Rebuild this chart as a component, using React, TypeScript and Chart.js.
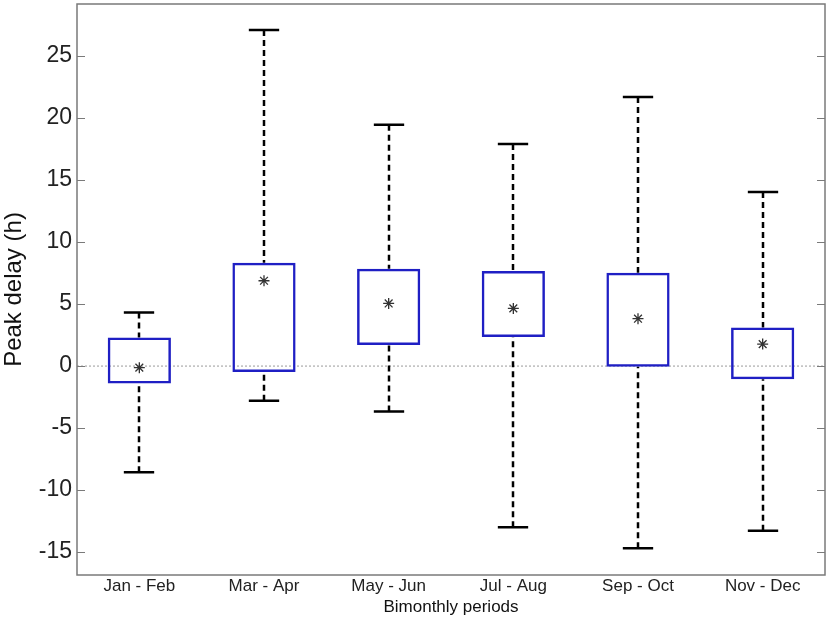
import React, { useEffect, useRef } from 'react';
import { Chart, registerables } from 'chart.js';

Chart.register(...registerables);

const categories = ['Jan - Feb', 'Mar - Apr', 'May - Jun', 'Jul - Aug', 'Sep - Oct', 'Nov - Dec'];
const boxLow = [-1.4, -0.48, 1.69, 2.34, -0.05, -1.07];
const boxHigh = [2.31, 8.33, 7.85, 7.66, 7.53, 3.12];
const means = [-0.13, 6.88, 5.05, 4.65, 3.82, 1.77];
const whiskerHigh = [4.33, 27.1, 19.46, 17.9, 21.7, 14.03];
const whiskerLow = [-8.57, -2.8, -3.66, -13.0, -14.7, -13.28];
const yMin = -16.85;
const yMax = 29.2;

export default function App() {
  const ref = useRef<HTMLCanvasElement>(null);

  useEffect(() => {
    document.body.style.margin = '0';
    const canvas = ref.current;
    if (!canvas) return;

    const boxExtras = {
      id: 'boxExtras',
      beforeDatasetsDraw(chart: any) {
        const { ctx, chartArea: a, scales } = chart;
        const x = scales.x;
        const y = scales.y;
        ctx.save();
        ctx.strokeStyle = '#9a9a9a';
        ctx.lineWidth = 1;
        ctx.setLineDash([2, 2]);
        const y0 = y.getPixelForValue(0);
        ctx.beginPath();
        ctx.moveTo(a.left, y0);
        ctx.lineTo(a.right, y0);
        ctx.stroke();
        ctx.restore();

        const meta = chart.getDatasetMeta(0);
        ctx.save();
        ctx.strokeStyle = '#000';
        ctx.lineWidth = 2.5;
        categories.forEach((_, i) => {
          const px = Math.round(x.getPixelForValue(i));
          const bw = meta.data[i].width;
          const half = bw * 0.24;
          const yHi = y.getPixelForValue(whiskerHigh[i]);
          const yQ3 = y.getPixelForValue(boxHigh[i]);
          const yQ1 = y.getPixelForValue(boxLow[i]);
          const yLo = y.getPixelForValue(whiskerLow[i]);
          ctx.setLineDash([6, 4]);
          ctx.beginPath();
          ctx.moveTo(px, yHi);
          ctx.lineTo(px, yQ3);
          ctx.moveTo(px, yLo);
          ctx.lineTo(px, yQ1);
          ctx.stroke();
          ctx.setLineDash([]);
          ctx.beginPath();
          ctx.moveTo(px - half, yHi);
          ctx.lineTo(px + half, yHi);
          ctx.moveTo(px - half, yLo);
          ctx.lineTo(px + half, yLo);
          ctx.stroke();
        });
        ctx.restore();
      },
      afterDraw(chart: any) {
        const { ctx, chartArea: a, scales } = chart;
        const y = scales.y;
        ctx.save();
        ctx.strokeStyle = '#7a7a7a';
        ctx.lineWidth = 1.5;
        ctx.strokeRect(a.left, a.top, a.right - a.left, a.bottom - a.top);
        ctx.lineWidth = 1.2;
        ctx.beginPath();
        y.ticks.forEach((t: any) => {
          const py = Math.round(y.getPixelForValue(t.value)) + 0.5;
          ctx.moveTo(a.left, py);
          ctx.lineTo(a.left + 8, py);
          ctx.moveTo(a.right - 8, py);
          ctx.lineTo(a.right, py);
        });
        ctx.stroke();
        ctx.restore();
      },
    };

    const chart = new Chart(canvas, {
      type: 'bar',
      data: {
        labels: categories,
        datasets: [
          {
            type: 'bar',
            data: categories.map((_, i) => [boxLow[i], boxHigh[i]]) as any,
            backgroundColor: 'rgba(255,255,255,0)',
            borderColor: '#1f1fc4',
            borderWidth: 2.5,
            borderSkipped: false,
            barPercentage: 0.507,
            categoryPercentage: 1,
            order: 2,
          },
          {
            type: 'line',
            data: means,
            showLine: false,
            pointStyle: 'star',
            pointRadius: 5.5,
            pointBorderColor: '#333',
            pointBackgroundColor: '#333',
            pointBorderWidth: 1.3,
            order: 1,
          } as any,
        ],
      },
      options: {
        animation: false,
        responsive: false,
        maintainAspectRatio: false,
        layout: { autoPadding: false, padding: { left: 0, right: 2, top: 4, bottom: 6 } },
        plugins: { legend: { display: false }, tooltip: { enabled: false } },
        scales: {
          x: {
            grid: { display: false, drawTicks: false },
            border: { display: false },
            ticks: {
              color: '#222',
              padding: 1,
              font: { family: "'Liberation Sans', Arial, sans-serif", size: 17 },
            },
            title: {
              display: true,
              text: 'Bimonthly periods',
              color: '#111',
              padding: { top: 0, bottom: 0 },
              font: { family: "'Liberation Sans', Arial, sans-serif", size: 17 },
            },
            afterFit(scale: any) {
              scale.height = 43;
              scale.paddingLeft = 0;
              scale.paddingRight = 0;
            },
          },
          y: {
            min: yMin,
            max: yMax,
            grid: { display: false, drawTicks: false },
            border: { display: false },
            ticks: {
              stepSize: 5,
              includeBounds: false,
              color: '#222',
              padding: 5,
              font: { family: "'Liberation Sans', Arial, sans-serif", size: 23 },
            },
            title: {
              display: true,
              text: 'Peak delay (h)',
              color: '#111',
              padding: { top: 0, bottom: 0 },
              font: { family: "'Liberation Sans', Arial, sans-serif", size: 24 },
            },
            afterFit(scale: any) {
              scale.width = 77;
              scale.paddingTop = 0;
              scale.paddingBottom = 0;
            },
          },
        },
      },
      plugins: [boxExtras],
    });

    return () => chart.destroy();
  }, []);

  return (
    <div style={{ width: 827, height: 624, background: '#fff' }}>
      <canvas ref={ref} width={827} height={624} style={{ display: 'block' }} />
    </div>
  );
}
